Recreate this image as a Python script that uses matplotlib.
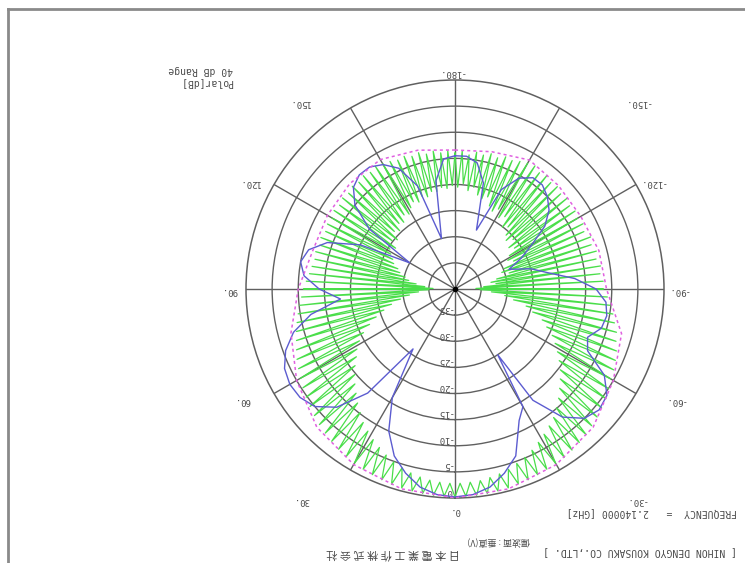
import numpy as np
import matplotlib
matplotlib.use("Agg")
import matplotlib.pyplot as plt
from matplotlib.lines import Line2D

# ---- pattern data (angles in degrees, levels in dB relative to peak) ----
env_deg = [-180, -165, -150, -135, -120, -105, -90, -75, -60, -45, -30, -15,
           0, 15, 30, 45, 60, 75, 90, 105, 120, 135, 150, 165, 180]
env_db = [-13.4, -12.8, -11.5, -12.0, -12.2, -11.5, -11.0, -7.0, -5.0, -2.6, -1.2, -0.4,
          0.0, -0.4, -1.2, -2.6, -5.0, -7.5, -10.0, -11.8, -11.8, -11.5, -11.4, -12.5, -13.4]

blue_deg = [-180, -175, -170, -165, -160, -155, -150, -145, -140, -135, -130, -125,
            -120, -115, -110, -105, -100, -95, -90, -85, -80, -75, -70, -65,
            -60, -55, -50, -45, -40, -35, -33, -30, -26, -20, -15, -10, -5,
            0, 5, 10, 15, 20, 25, 30, 35, 40, 45, 50, 55, 60, 65, 70, 75, 80,
            85, 90, 95, 100, 105, 110, 115, 120, 125, 130, 135, 140, 145, 150,
            155, 160, 165, 170, 175, 180]
blue_db = [-14.5, -14.5, -15.5, -19.0, -28.0, -19.0, -15.5, -14.0, -14.0, -15.0, -16.5, -19.0,
           -23.0, -26.0, -29.0, -25.0, -22.0, -17.0, -13.0, -11.0, -10.5, -11.0, -13.0, -12.0,
           -7.0, -4.5, -4.0, -5.0, -8.0, -14.0, -25.0, -14.0, -12.0, -6.0, -3.5, -1.5, -0.5,
           -0.2, -0.5, -1.5, -3.5, -6.0, -10.0, -16.0, -26.0, -14.0, -8.0, -5.0, -3.8, -3.5, -4.0, -5.5, -8.0, -12.0,
           -18.0, -14.0, -11.0, -10.0, -11.0, -14.0, -20.0, -30.0, -20.0, -15.0, -12.5, -11.5, -11.5, -12.5,
           -14.5, -19.0, -30.0, -19.0, -15.0, -14.5]

# ripple trace: crest levels every 3 deg starting at -180, troughs half a step later
green_start_deg = -180.0
green_step_deg = 3.0
green_peak_db = [
    -14.0, -13.6, -14.2, -13.5, -13.8, -13.2, -13.6, -12.9, -13.1, -12.6,
    -12.2, -11.9, -12.5, -12.0, -12.6, -12.3, -12.8, -12.4, -12.9, -12.6,
    -12.9, -12.5, -13.0, -12.2, -12.6, -12.0, -12.4, -11.8, -12.1, -11.6,
    -11.6, -10.8, -10.2, -9.4, -8.8, -8.0, -7.6, -6.9, -6.4, -5.9,
    -5.6, -5.0, -4.3, -3.9, -3.4, -3.0, -2.5, -2.2, -1.9, -1.6,
    -1.5, -1.3, -1.1, -0.9, -0.8, -0.6, -0.5, -0.4, -0.3, -0.3,
    -0.2, -0.3, -0.3, -0.4, -0.5, -0.6, -0.7, -0.9, -1.1, -1.3,
    -1.5, -1.8, -2.1, -2.5, -2.9, -3.3, -3.8, -4.3, -4.8, -5.3,
    -5.8, -6.4, -6.9, -7.5, -8.1, -8.6, -9.1, -9.6, -10.1, -10.6,
    -11.0, -11.5, -12.0, -12.3, -12.6, -12.4, -12.8, -12.5, -12.9, -12.6,
    -12.8, -12.4, -12.7, -12.3, -12.6, -12.2, -12.5, -12.1, -12.4, -12.0,
    -12.3, -12.6, -13.0, -12.8, -13.3, -13.0, -13.6, -13.3, -13.8, -13.5,
]
green_trough_db = [
    -20.5, -19.8, -21.0, -20.2, -21.5, -22.0, -21.3, -22.8, -23.5, -22.6,
    -24.0, -23.2, -25.1, -24.4, -25.8, -26.5, -25.4, -27.0, -26.2, -27.8,
    -28.5, -27.6, -29.8, -30.5, -29.2, -31.8, -33.0, -32.1, -34.5, -36.0,
    -35.2, -33.0, -30.4, -28.6, -26.0, -24.5, -22.3, -21.0, -19.4, -18.2,
    -17.0, -15.8, -14.6, -13.5, -12.4, -11.2, -10.1, -9.0, -8.2, -7.4,
    -6.6, -5.8, -5.1, -4.6, -4.0, -3.6, -3.3, -3.0, -2.9, -2.8,
    -2.8, -2.9, -3.1, -3.4, -3.8, -4.3, -4.9, -5.6, -6.4, -7.2,
    -8.1, -9.0, -10.2, -11.3, -12.5, -13.6, -14.8, -15.9, -17.1, -18.0,
    -19.2, -20.6, -22.3, -24.0, -25.8, -27.5, -29.4, -31.2, -33.0, -35.0,
    -35.8, -34.2, -32.5, -31.0, -30.2, -29.0, -28.4, -27.3, -26.8, -26.0,
    -25.4, -26.2, -24.8, -25.5, -24.0, -24.6, -23.5, -23.9, -22.8, -23.2,
    -22.3, -21.5, -22.0, -21.2, -21.6, -20.8, -21.0, -20.4, -20.7, -20.2,
]

ring_levels = [0, -5, -10, -15, -20, -25, -30, -35]
angle_labels = ["0.", "30.", "60.", "90.", "120.", "150.", "-180.",
                "-150.", "-120.", "-90.", "-60.", "-30."]
# label centres in page pixels (x from left, y from top)
angle_label_px = [(455, 511), (301, 500), (242, 400), (229, 290), (249, 182),
                  (299, 103), (451, 72), (637, 103), (652, 182), (678, 290),
                  (675, 400), (636, 500)]

db_range = 40.0

W, H = 745, 563
fig = plt.figure(figsize=(W / 100, H / 100), dpi=100)
fig.patch.set_facecolor("white")

cx, cy, R = 455, 289, 209
ax = fig.add_axes([(cx - R) / W, (H - cy - R) / H, 2 * R / W, 2 * R / H],
                  projection="polar")
ax.set_theta_zero_location("S")
ax.set_theta_direction(-1)
ax.set_ylim(0, db_range)

grid_col = "#606060"
ax.set_rgrids([5, 10, 15, 20, 25, 30, 35], labels=[""] * 7)
ax.set_thetagrids(list(range(0, 360, 30)), labels=[""] * 12)
ax.grid(True, color=grid_col, linewidth=1.0, linestyle="-")
ax.spines["polar"].set_color(grid_col)
ax.spines["polar"].set_linewidth(1.1)
ax.tick_params(length=0)


def to_r(db):
    return np.clip(np.asarray(db, dtype=float) + db_range, 0, db_range)


# ripple trace as alternating crest/trough points
g_theta = []
g_db = []
for k, (p, t) in enumerate(zip(green_peak_db, green_trough_db)):
    a = green_start_deg + k * green_step_deg
    g_theta += [a, a + green_step_deg / 2]
    g_db += [p, t]
g_theta.append(green_start_deg + len(green_peak_db) * green_step_deg)
g_db.append(green_peak_db[0])

ax.plot(np.radians(g_theta), to_r(g_db), color="#4ade4a", lw=0.9, zorder=3)
ax.plot(np.radians(blue_deg), to_r(blue_db), color="#5c5cd0", lw=1.0, zorder=4)
ax.plot(np.radians(env_deg), to_r(env_db), color="#e060e0", lw=1.1,
        linestyle=(0, (2, 2)), zorder=5)
ax.plot([0], [0], "o", color="black", ms=3, zorder=6)

txt_col = "#4a4a4a"
mono = "DejaVu Sans Mono"
cjk = ["Noto Sans CJK JP", "DejaVu Sans"]

# ring level labels beside the 0-degree spoke
for lv in ring_levels:
    ax.annotate(f"{lv}", xy=(0, lv + db_range), xytext=(-2, 5),
                textcoords="offset points", rotation=180, ha="right",
                va="center", fontsize=6.5, family=mono, color=txt_col)

# angle labels outside the circle
for lab, (px, py) in zip(angle_labels, angle_label_px):
    fig.text(px / W, 1 - py / H, lab, rotation=180, ha="center", va="center",
             fontsize=6.5, family=mono, color=txt_col)

# header and footer text (page is printed upside down)
fig.text(233 / W, 1 - 70 / H, "40 dB Range", rotation=180, ha="right", va="center",
         fontsize=7, family=mono, color=txt_col)
fig.text(233 / W, 1 - 83 / H, "Polar[dB]", rotation=180, ha="right", va="center",
         fontsize=7, family=mono, color=txt_col)
fig.text(567 / W, 1 - 513 / H, "FREQUENCY  =   2.140000 [GHz]", rotation=180,
         ha="left", va="center", fontsize=7, family=mono, color=txt_col)
fig.text(543 / W, 1 - 552 / H, "[ NIHON DENGYO KOUSAKU CO.,LTD. ]", rotation=180,
         ha="left", va="center", fontsize=7, family=mono, color=txt_col)
fig.text(460 / W, 1 - 553 / H, "日 本 電 業 工 作 株 式 会 社", rotation=180,
         ha="right", va="center", fontsize=8, family=cjk, color=txt_col)
fig.text(467 / W, 1 - 542 / H, "偏波面 : 垂直(V)", rotation=180, ha="left",
         va="center", fontsize=6.5, family=cjk, color=txt_col)

# page border
fig.add_artist(Line2D([8 / W, 8 / W], [0, 1 - 9 / H], transform=fig.transFigure,
                      color="#8a8a8a", lw=2))
fig.add_artist(Line2D([8 / W, 1], [1 - 9 / H, 1 - 9 / H], transform=fig.transFigure,
                      color="#8a8a8a", lw=2))

fig.savefig("out.png", dpi=100)
